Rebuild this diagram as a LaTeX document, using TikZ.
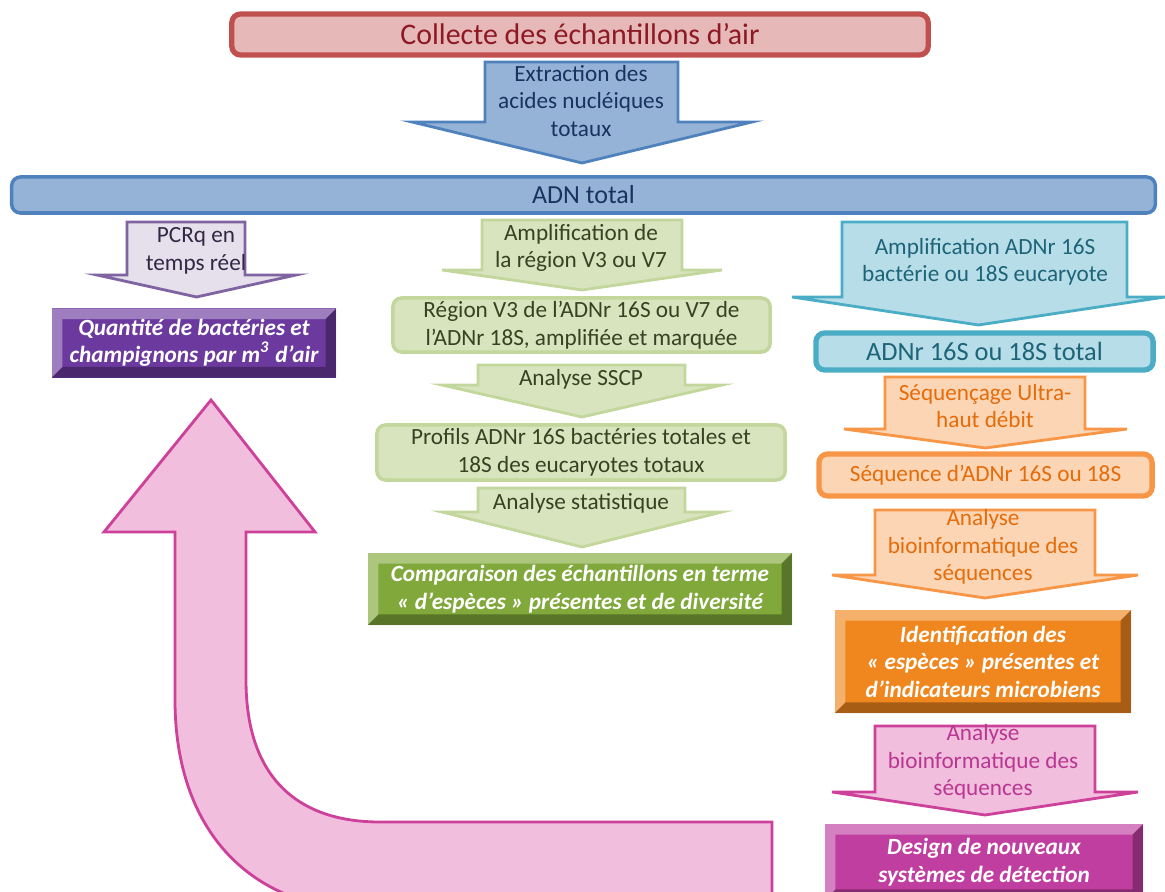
\documentclass[tikz,border=0pt]{standalone}
\usepackage{fontspec}
\setmainfont{Carlito}

\definecolor{redline}{RGB}{192,80,77}   \definecolor{redfill}{RGB}{230,185,184} \definecolor{redtxt}{RGB}{140,25,35}
\definecolor{blueline}{RGB}{79,129,189} \definecolor{bluefill}{RGB}{149,179,215} \definecolor{bluetxt}{RGB}{25,50,95}
\definecolor{lavline}{RGB}{128,100,162} \definecolor{lavfill}{RGB}{229,224,236} \definecolor{lavtxt}{RGB}{50,40,70}
\definecolor{purplebox}{RGB}{108,58,158}
\definecolor{grline}{RGB}{195,214,155}  \definecolor{grfill}{RGB}{215,228,189}  \definecolor{grtxt}{RGB}{55,65,35}
\definecolor{greenbox}{RGB}{128,168,58}
\definecolor{cyline}{RGB}{75,172,198}   \definecolor{cyfill}{RGB}{183,222,232}  \definecolor{cytxt}{RGB}{30,100,120}
\definecolor{orline}{RGB}{247,150,70}   \definecolor{orfill}{RGB}{252,213,181}  \definecolor{ortxt}{RGB}{228,108,10}
\definecolor{orangebox}{RGB}{240,135,30}
\definecolor{pkline}{RGB}{205,65,155}   \definecolor{pkfill}{RGB}{242,190,222}  \definecolor{pktxt}{RGB}{185,55,145}
\definecolor{magbox}{RGB}{192,62,160}

\newcommand{\blockarrow}[8]{\filldraw[#1] (#2,#4) -- (#3,#4) -- (#3,#5) -- (#7,#5) -- ({(#6+#7)/2},#8) -- (#6,#5) -- (#2,#5) -- cycle;}

\tikzset{
  arrtxt/.style={align=center,inner sep=0pt,font=\fontsize{6.6}{7.8}\selectfont},
  flowbox/.style={rounded corners=2.5pt,line width=1pt,align=center,inner sep=0pt,font=\fontsize{6.6}{7.8}\selectfont},
  bevelbox/.style={fill=#1,text=white,align=center,inner sep=0pt,
    font=\fontsize{6.6}{7.8}\selectfont\bfseries\itshape,
    path picture={
      \coordinate (bsw) at (path picture bounding box.south west);
      \coordinate (bnw) at (path picture bounding box.north west);
      \coordinate (bne) at (path picture bounding box.north east);
      \coordinate (bse) at (path picture bounding box.south east);
      \fill[white,opacity=.35] (bsw) -- (bnw) -- (bne) -- ([shift={(-3pt,-3pt)}]bne) -- ([shift={(3pt,-3pt)}]bnw) -- ([shift={(3pt,3pt)}]bsw) -- cycle;
      \fill[black,opacity=.3] (bsw) -- (bse) -- (bne) -- ([shift={(-3pt,-3pt)}]bne) -- ([shift={(-3pt,3pt)}]bse) -- ([shift={(3pt,3pt)}]bsw) -- cycle;
    }}
}

\begin{document}
\begin{tikzpicture}[x=0.01cm,y=-0.01cm,line width=0.8pt]
  \path[use as bounding box] (0,0) rectangle (1165,892);
  \clip (0,0) rectangle (1165,892);

  \filldraw[pkfill,draw=pkline] (211,400) -- (315,532) -- (246,532) -- (246,680)
    .. controls (246,780) and (300,822) .. (380,822) -- (772,822) -- (772,910) -- (370,910)
    .. controls (250,910) and (175,830) .. (175,700) -- (175,532) -- (104,532) -- cycle;

  \node[flowbox,draw=redline,fill=redfill,line width=1.5pt,text=redtxt,minimum width=6.96cm,minimum height=0.41cm,
    font=\fontsize{8.5}{10}\selectfont] (collecte) at (580,34.5) {Collecte des échantillons d’air};
  \blockarrow{fill=bluefill,draw=blueline}{485}{678}{62}{122}{412}{752}{163}
  \node[arrtxt,text=bluetxt] (extraction) at (581,101) {Extraction des\\acides nucléiques\\totaux};
  \node[flowbox,draw=blueline,fill=bluefill,text=bluetxt,minimum width=11.43cm,minimum height=0.36cm,
    font=\fontsize{7.4}{9}\selectfont] (adn) at (583.5,195) {ADN total};

  \blockarrow{fill=lavfill,draw=lavline}{127}{245}{222}{275}{97}{296}{297}
  \node[arrtxt,text=lavtxt] (pcrq) at (196,251) {PCRq en\\temps réel};
  \node[bevelbox=purplebox,minimum width=2.84cm,minimum height=0.69cm] (quantite) at (194,343)
    {Quantité de bactéries et\\champignons par m\textsuperscript{3} d’air};

  \blockarrow{fill=grfill,draw=grline}{482}{682}{220}{270}{442}{722}{290}
  \node[arrtxt,text=grtxt] (amplif) at (581,248) {Amplification de\\la région V3 ou V7};
  \node[flowbox,draw=grline,fill=grfill,text=grtxt,minimum width=3.77cm,minimum height=0.54cm] (region) at (581.5,325)
    {Région V3 de l’ADNr 16S ou V7 de\\l’ADNr 18S, amplifiée et marquée};
  \blockarrow{fill=grfill,draw=grline}{478}{685}{365}{385}{442}{722}{417}
  \node[arrtxt,text=grtxt] (sscp) at (581,379) {Analyse SSCP};
  \node[flowbox,draw=grline,fill=grfill,text=grtxt,minimum width=4.08cm,minimum height=0.55cm] (profils) at (581,452.5)
    {Profils ADNr 16S bactéries totales et\\18S des eucaryotes totaux};
  \blockarrow{fill=grfill,draw=grline}{478}{685}{488}{512}{442}{722}{547}
  \node[arrtxt,text=grtxt] (stat) at (581,503) {Analyse statistique};
  \node[bevelbox=greenbox,minimum width=4.24cm,minimum height=0.72cm] (comparaison) at (580,589)
    {Comparaison des échantillons en terme\\«~d’espèces~» présentes et de diversité};

  \blockarrow{fill=cyfill,draw=cyline}{842}{1127}{222}{297}{792}{1165}{325}
  \node[arrtxt,text=cytxt] (amplif16s) at (985,262) {Amplification ADNr 16S\\bactérie ou 18S eucaryote};
  \node[flowbox,draw=cyline,fill=cyfill,text=cytxt,line width=1.5pt,minimum width=3.37cm,minimum height=0.37cm,
    font=\fontsize{7.5}{9}\selectfont] (adnr) at (984.5,351.5) {ADNr 16S ou 18S total};
  \blockarrow{fill=orfill,draw=orline}{885}{1085}{377}{429}{844}{1127}{448}
  \node[arrtxt,text=ortxt] (sequencage) at (985,406) {Séquençage Ultra-\\haut débit};
  \node[flowbox,draw=orline,fill=orfill,text=ortxt,line width=1.5pt,minimum width=3.33cm,minimum height=0.42cm] (sequence) at (985.5,475)
    {Séquence d’ADNr 16S ou 18S};
  \blockarrow{fill=orfill,draw=orline}{875}{1095}{510}{575}{832}{1138}{598}
  \node[arrtxt,text=ortxt] (bioinfo) at (983,547) {Analyse\\bioinformatique des\\séquences};
  \node[bevelbox=orangebox,minimum width=2.96cm,minimum height=1.03cm] (identif) at (983,661.5)
    {Identification des\\«~espèces~» présentes et\\d’indicateurs microbiens};
  \blockarrow{fill=pkfill,draw=pkline}{875}{1095}{726}{792}{832}{1138}{815}
  \node[arrtxt,text=pktxt] (bioinfo2) at (983,762) {Analyse\\bioinformatique des\\séquences};
  \node[bevelbox=magbox,minimum width=3.18cm,minimum height=0.76cm] (design) at (984,862)
    {Design de nouveaux\\systèmes de détection};
\end{tikzpicture}
\end{document}
